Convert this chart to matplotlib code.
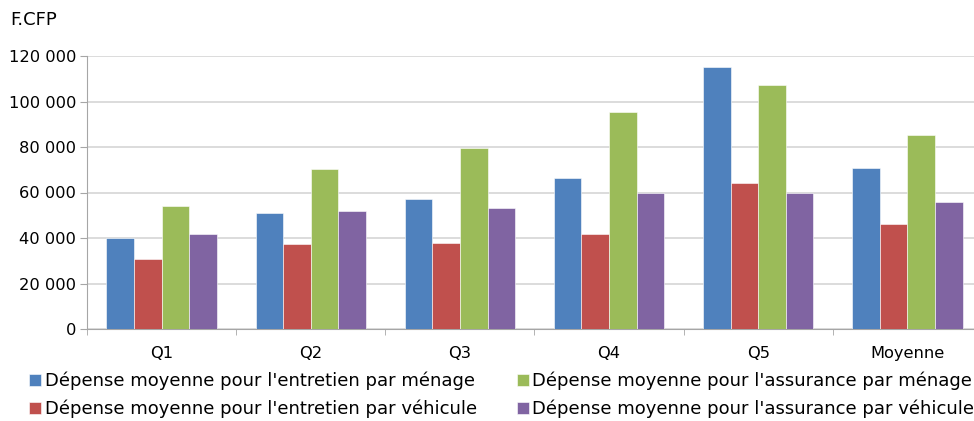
import numpy as np
import matplotlib.pyplot as plt
from matplotlib.ticker import FuncFormatter

categories = ["Q1", "Q2", "Q3", "Q4", "Q5", "Moyenne"]
entretien_menage = [40000, 50900, 57300, 66500, 115300, 70800]
entretien_vehicule = [30600, 37200, 37800, 41800, 64300, 46000]
assurance_menage = [54100, 70300, 79700, 95200, 107300, 85400]
assurance_vehicule = [41700, 51900, 53200, 60000, 59900, 55700]
labels = [
    "Dépense moyenne pour l'entretien par ménage",
    "Dépense moyenne pour l'entretien par véhicule",
    "Dépense moyenne pour l'assurance par ménage",
    "Dépense moyenne pour l'assurance par véhicule",
]
colors = ["#4F81BD", "#C0504D", "#9BBB59", "#8064A2"]

fs = 11.7
fig = plt.figure(figsize=(9.74, 4.21), dpi=100)
ax = fig.add_axes([87 / 974, 92 / 421, 895 / 974, 273 / 421])

x = np.arange(len(categories))
w = 0.185
series = [entretien_menage, entretien_vehicule, assurance_menage, assurance_vehicule]
for k, (vals, col, lab) in enumerate(zip(series, colors, labels)):
    ax.bar(x + (k - 1.5) * w, vals, width=w, color=col, label=lab,
           edgecolor="white", linewidth=0.4, zorder=3)

ax.set_xlim(-0.5, len(categories) - 0.5)
ax.set_ylim(0, 120000)
ax.set_yticks(np.arange(0, 120001, 20000))
ax.yaxis.set_major_formatter(FuncFormatter(lambda v, p: f"{int(v):,}".replace(",", " ")))
ax.grid(axis="y", color="#d9d9d9", linewidth=1.3, zorder=0)
ax.set_axisbelow(True)

ax.set_xticks(x)
ax.set_xticklabels(categories)
ax.set_xticks(np.arange(-0.5, len(categories), 1), minor=True)
ax.tick_params(axis="x", which="major", length=0, pad=12, labelsize=fs)
ax.tick_params(axis="x", which="minor", length=4, color="#a6a6a6", direction="out")
ax.tick_params(axis="y", length=5, color="#a6a6a6", labelsize=fs, pad=3)

for s in ["top", "right"]:
    ax.spines[s].set_visible(False)
ax.spines["left"].set_color("#a6a6a6")
ax.spines["bottom"].set_color("#a6a6a6")
ax.spines["left"].set_zorder(4)

fig.text(10 / 974, 1 - 20 / 421, "F.CFP", fontsize=13, va="center", ha="left")

fig.legend(loc="upper left", bbox_to_anchor=(29 / 974, 1 - 372 / 421), ncol=2,
           frameon=False, fontsize=13, handlelength=0.67, handleheight=0.67,
           handletextpad=0.2, columnspacing=2.2, labelspacing=0.5, borderaxespad=0,
           borderpad=0)

fig.savefig("out.png", dpi=100)
